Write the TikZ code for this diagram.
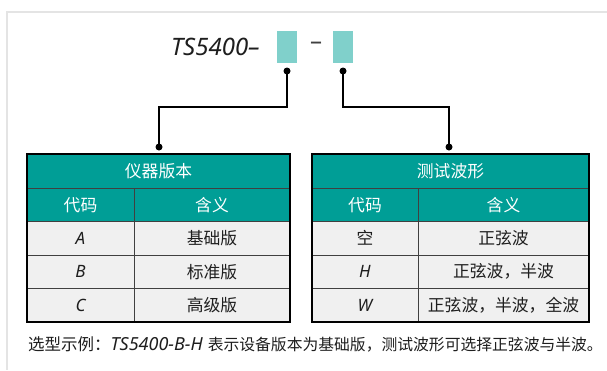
\documentclass[tikz,border=0pt]{standalone}
\usepackage{fontspec}
\setmainfont{Noto Sans CJK SC}
\newfontfamily\lsans{Noto Sans}
\definecolor{hdteal}{RGB}{0,158,150}
\definecolor{lightteal}{RGB}{128,208,203}
\definecolor{rowgray}{RGB}{240,240,240}
\definecolor{framegray}{RGB}{228,228,228}
\definecolor{txt}{RGB}{30,30,30}
\tikzset{
  frameline/.style={draw=framegray, line width=1.5pt},
  outerline/.style={draw=black, line width=1.6pt},
  innerline/.style={draw=black!75, line width=0.9pt},
  conn/.style={draw=black, line width=1.5pt},
  dotnode/.style={circle, fill=black, inner sep=0pt, minimum size=7pt},
  codebox/.style={rectangle, fill=lightteal, inner sep=0pt, minimum width=20pt, minimum height=32pt},
  hdtext/.style={text=white, inner sep=0pt, font=\fontsize{16.8}{18}\selectfont},
  bodytext/.style={text=txt, inner sep=0pt, font=\fontsize{16.8}{18}\selectfont},
  latintext/.style={text=txt, inner sep=0pt, font=\lsans\itshape\fontsize{17}{19}\selectfont},
}
\begin{document}
\begin{tikzpicture}[x=1pt,y=-1pt]
\useasboundingbox (0,0) rectangle (607,370);
\fill[white] (0,0) rectangle (607,370);
\draw[frameline] (7,370) -- (7,12) -- (607,12);

% title
\node[anchor=base west, inner sep=0pt, text=txt, font=\lsans\itshape\fontsize{24}{26}\selectfont] (title) at (171,55) {TS5400–};
\node[codebox] (b1) at (287,47) {};
\node[text=black!75, inner sep=0pt, font=\lsans\fontsize{24}{26}\selectfont] (dash) at (316,46) {–};
\node[codebox] (b2) at (343,47) {};

% dots
\node[dotnode] (d1) at (287,71) {};
\node[dotnode] (d2) at (343,71) {};
\node[dotnode] (d3) at (159,147) {};
\node[dotnode] (d4) at (449,147) {};
\draw[conn] (d1.center) -- (287,107) -| (d3.center);
\draw[conn] (d2.center) -- (343,107) -| (d4.center);

% left table
\fill[hdteal] (27,154) rectangle (290,221.5);
\fill[rowgray] (27,221.5) rectangle (290,322);
\draw[innerline] (27,188) -- (290,188);
\draw[innerline] (27,221.5) -- (290,221.5);
\draw[innerline] (27,255) -- (290,255);
\draw[innerline] (27,288.5) -- (290,288.5);
\draw[innerline] (134,188) -- (134,322);
\draw[outerline] (27,154) rectangle (290,322);
\node[hdtext] (t1) at (158.5,171) {仪器版本};
\node[hdtext] (t1c1) at (80.5,204.75) {代码};
\node[hdtext] (t1c2) at (212,204.75) {含义};
\node[latintext] (t1a) at (80.5,238.25) {A};
\node[bodytext] (t1a2) at (212,238.25) {基础版};
\node[latintext] (t1b) at (80.5,271.75) {B};
\node[bodytext] (t1b2) at (212,271.75) {标准版};
\node[latintext] (t1c) at (80.5,305.25) {C};
\node[bodytext] (t1c3) at (212,305.25) {高级版};

% right table
\fill[hdteal] (312,154) rectangle (589,221.5);
\fill[rowgray] (312,221.5) rectangle (589,322);
\draw[innerline] (312,188) -- (589,188);
\draw[innerline] (312,221.5) -- (589,221.5);
\draw[innerline] (312,255) -- (589,255);
\draw[innerline] (312,288.5) -- (589,288.5);
\draw[innerline] (418,188) -- (418,322);
\draw[outerline] (312,154) rectangle (589,322);
\node[hdtext] (t2) at (450.5,171) {测试波形};
\node[hdtext] (t2c1) at (365,204.75) {代码};
\node[hdtext] (t2c2) at (503.5,204.75) {含义};
\node[bodytext] (t2a) at (365,238.25) {空};
\node[bodytext] (t2a2) at (503.5,238.25) {正弦波};
\node[latintext] (t2b) at (365,271.75) {H};
\node[bodytext] (t2b2) at (503.5,271.75) {正弦波，半波};
\node[latintext] (t2c) at (365,305.25) {W};
\node[bodytext] (t2c3) at (503.5,305.25) {正弦波，半波，全波};

% caption
\node[anchor=base west, inner sep=0pt, text=txt] (cap) at (28,350) {{\fontsize{16.5}{18}\selectfont 选型示例：}{\lsans\itshape\fontsize{18}{20}\selectfont TS5400-B-H}\hspace{5pt}{\fontsize{15.8}{18}\selectfont 表示设备版本为基础版，测试波形可选择正弦波与半波。}};
\end{tikzpicture}
\end{document}
